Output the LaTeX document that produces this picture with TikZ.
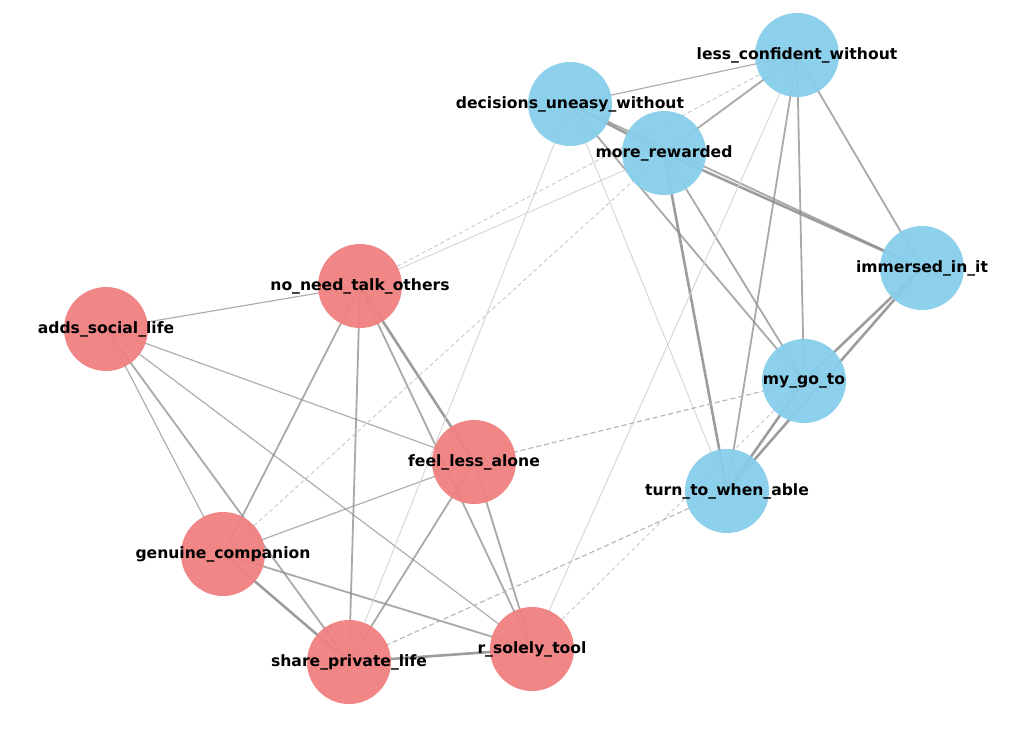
\documentclass[tikz,border=0pt]{standalone}
\usepackage{fontspec}
\setmainfont{DejaVu Sans}
\pgfdeclarelayer{edges}
\pgfdeclarelayer{labels}
\pgfsetlayers{edges,main,labels}
\definecolor{redn}{RGB}{240,128,128}
\definecolor{bluen}{RGB}{135,206,235}
\definecolor{edgec}{RGB}{140,140,140}
\definecolor{faintc}{RGB}{212,212,212}
\definecolor{dashc}{RGB}{180,180,180}
\definecolor{dashlc}{RGB}{200,200,200}
\tikzset{
  rnode/.style={circle, fill=redn, fill opacity=0.95, draw=none, minimum size=84pt, inner sep=0pt},
  bnode/.style={circle, fill=bluen, fill opacity=0.95, draw=none, minimum size=84pt, inner sep=0pt},
  lbl/.style={font=\fontsize{15.6}{18}\selectfont\bfseries, text=black, inner sep=0pt},
  ethick/.style={draw=edgec, line width=2.6pt, draw opacity=0.85},
  emed/.style={draw=edgec, line width=1.8pt, draw opacity=0.75},
  ethin/.style={draw=edgec, line width=1.2pt, draw opacity=0.7},
  efaint/.style={draw=faintc, line width=0.9pt},
  edash/.style={draw=dashc, line width=1.1pt, dash pattern=on 5pt off 3pt},
  edashl/.style={draw=dashlc, line width=0.9pt, dash pattern=on 4pt off 3pt},
}
\begin{document}
\begin{tikzpicture}[x=1pt,y=-1pt]
\useasboundingbox (0,0) rectangle (1025,730);
% nodes
\node[rnode] (nnt) at (360,286) {};
\node[rnode] (asl) at (106,329) {};
\node[rnode] (fla) at (474,462) {};
\node[rnode] (gco) at (223,554) {};
\node[rnode] (spl) at (349,662) {};
\node[rnode] (rst) at (532,649) {};
\node[bnode] (duw) at (570,104) {};
\node[bnode] (lcw) at (797,55) {};
\node[bnode] (mrw) at (664,153) {};
\node[bnode] (iii) at (922,268) {};
\node[bnode] (mgt) at (804,381) {};
\node[bnode] (twa) at (727,491) {};
% edges
\begin{pgfonlayer}{edges}
% red cluster
\draw[ethick] (nnt.center) -- (fla.center);
\draw[ethick] (gco.center) -- (spl.center);
\draw[ethick] (spl.center) -- (rst.center);
\draw[emed] (asl.center) -- (spl.center);
\draw[emed] (gco.center) -- (rst.center);
\draw[emed] (nnt.center) -- (gco.center);
\draw[emed] (nnt.center) -- (spl.center);
\draw[emed] (fla.center) -- (spl.center);
\draw[emed] (fla.center) -- (rst.center);
\draw[emed] (nnt.center) -- (rst.center);
\draw[ethin] (asl.center) -- (gco.center);
\draw[ethin] (asl.center) -- (nnt.center);
\draw[ethin] (asl.center) -- (fla.center);
\draw[ethin] (asl.center) -- (rst.center);
\draw[ethin] (fla.center) -- (gco.center);
% blue cluster
\draw[ethick] (duw.center) -- (mrw.center);
\draw[ethick] (mrw.center) -- (iii.center);
\draw[emed] (duw.center) -- (iii.center);
\draw[ethick] (mrw.center) -- (twa.center);
\draw[ethick] (iii.center) -- (mgt.center);
\draw[ethick] (iii.center) -- (twa.center);
\draw[ethick] (mgt.center) -- (twa.center);
\draw[emed] (duw.center) -- (mgt.center);
\draw[emed] (mrw.center) -- (mgt.center);
\draw[emed] (lcw.center) -- (twa.center);
\draw[emed] (lcw.center) -- (mgt.center);
\draw[emed] (lcw.center) -- (iii.center);
\draw[emed] (mrw.center) -- (lcw.center);
\draw[ethin] (duw.center) -- (lcw.center);
% cross edges
\draw[efaint] (nnt.center) -- (mrw.center);
\draw[efaint] (duw.center) -- (spl.center);
\draw[efaint] (duw.center) -- (twa.center);
\draw[efaint] (lcw.center) -- (rst.center);
\draw[edashl] (nnt.center) -- (lcw.center);
\draw[edashl] (gco.center) -- (mrw.center);
\draw[edash] (fla.center) -- (mgt.center);
\draw[edash] (spl.center) -- (twa.center);
\draw[edashl] (rst.center) -- (mgt.center);
\end{pgfonlayer}
% labels
\begin{pgfonlayer}{labels}
\node[lbl] at (nnt) {no\_need\_talk\_others};
\node[lbl] at (asl) {adds\_social\_life};
\node[lbl] at (fla) {feel\_less\_alone};
\node[lbl] at (gco) {genuine\_companion};
\node[lbl] at (spl) {share\_private\_life};
\node[lbl] at (rst) {r\_solely\_tool};
\node[lbl] at (duw) {decisions\_uneasy\_without};
\node[lbl] at (lcw) {less\_confident\_without};
\node[lbl] at (mrw) {more\_rewarded};
\node[lbl] at (iii) {immersed\_in\_it};
\node[lbl] at (mgt) {my\_go\_to};
\node[lbl] at (twa) {turn\_to\_when\_able};
\end{pgfonlayer}
\end{tikzpicture}
\end{document}
